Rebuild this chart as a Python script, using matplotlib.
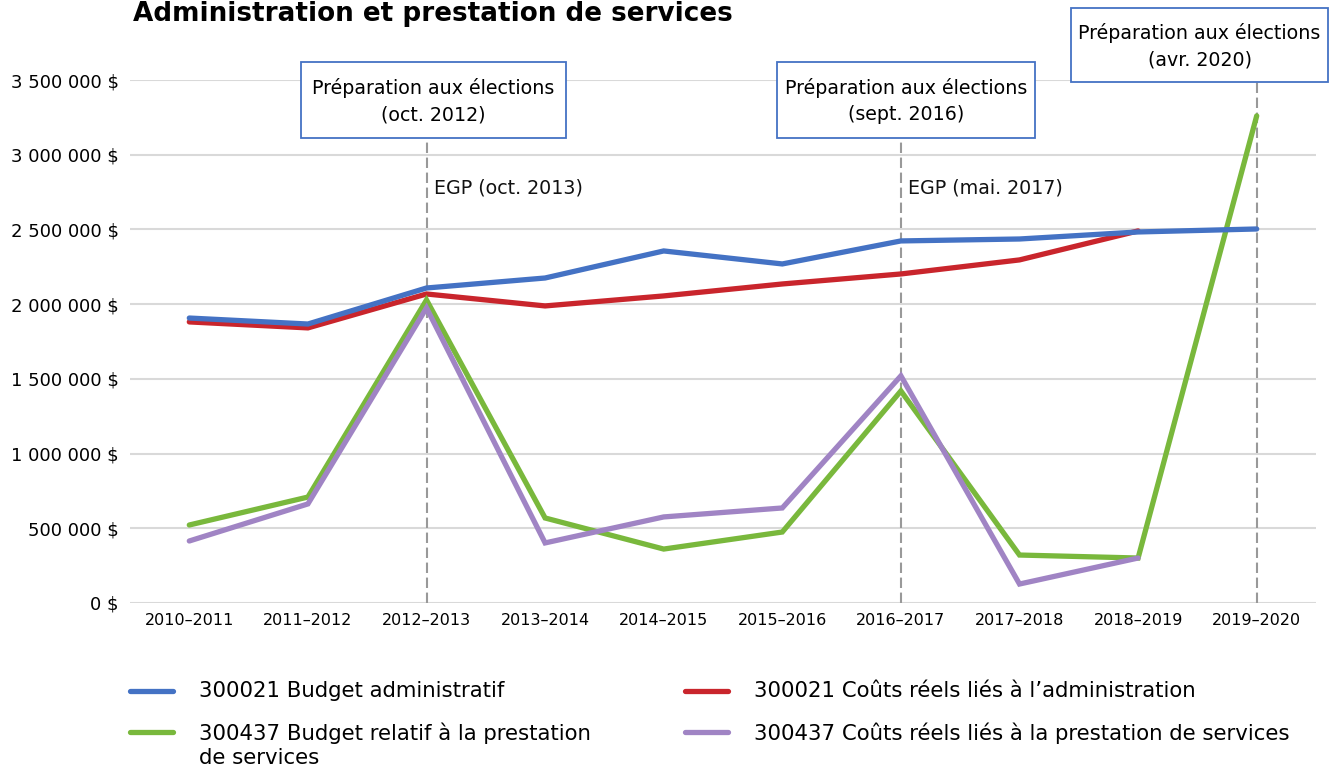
import numpy as np
import matplotlib
matplotlib.use("Agg")
import matplotlib.pyplot as plt
from matplotlib.ticker import FuncFormatter, MultipleLocator
from matplotlib.lines import Line2D
from matplotlib.patches import Rectangle

# --- DONNEES ---
annees = ["2010–2011", "2011–2012", "2012–2013", "2013–2014", "2014–2015",
          "2015–2016", "2016–2017", "2017–2018", "2018–2019", "2019–2020"]

budget_admin = [1907000, 1867000, 2108000, 2175000, 2356000,
                2269000, 2423000, 2436000, 2483000, 2503000]
couts_admin = [1881000, 1841000, 2068000, 1988000, 2055000,
               2135000, 2202000, 2296000, 2490000, np.nan]
budget_prest = [522000, 709000, 2028000, 569000, 361000,
                475000, 1419000, 321000, 301000, 3260000]
couts_prest = [415000, 663000, 1975000, 402000, 576000,
               636000, 1520000, 127000, 301000, np.nan]

noms_series = ["300021 Budget administratif",
               "300021 Coûts réels liés à l’administration",
               "300437 Budget relatif à la prestation\nde services",
               "300437 Coûts réels liés à la prestation de services"]

# evenements : indice de l'annee, texte de la boite, texte EGP
idx_evenements = [2, 6, 9]
textes_boites = ["Préparation aux élections\n(oct. 2012)",
                 "Préparation aux élections\n(sept. 2016)",
                 "Préparation aux élections\n(avr. 2020)"]
textes_egp = ["EGP (oct. 2013)", "EGP (mai. 2017)", None]

# --- STYLE ---
plt.rcParams['font.family'] = ['DejaVu Sans']
c_bleu = "#4472C4"
c_rouge = "#C9252C"
c_vert = "#79B83C"
c_violet = "#A084C4"
lw = 3.8
W, H = 1336, 773


def fx(px):
    return px / W


def fy(py):
    return 1 - py / H


fig = plt.figure(figsize=(W / 100, H / 100), dpi=100)
ax = fig.add_axes([fx(130), fy(603), 1186 / W, 523 / H])

x = np.arange(len(annees))

# --- SERIES ---
kw = dict(lw=lw, solid_capstyle="round", solid_joinstyle="miter")
l1, = ax.plot(x, budget_admin, color=c_bleu, zorder=4, **kw)
l2, = ax.plot(x, couts_admin, color=c_rouge, zorder=3, **kw)
l3, = ax.plot(x, budget_prest, color=c_vert, zorder=3, **kw)
l4, = ax.plot(x, couts_prest, color=c_violet, zorder=3.5, **kw)

# --- AXES ---
ax.set_xlim(-0.5, 9.5)
ax.set_ylim(0, 3500000)
ax.yaxis.set_major_locator(MultipleLocator(500000))
ax.yaxis.set_major_formatter(FuncFormatter(
    lambda v, p: "{:,.0f} $".format(v).replace(",", " ")))
ax.set_xticks(x)
ax.set_xticklabels(annees, fontsize=11.5)
ax.tick_params(axis="y", labelsize=13, length=0, pad=8)
ax.tick_params(axis="x", length=0, pad=7)
ax.grid(axis="y", color="#D9D9D9", lw=1.5, zorder=0)
ax.set_axisbelow(True)
for s in ax.spines.values():
    s.set_visible(False)

# --- LIGNES POINTILLEES ET ANNOTATIONS ---
# boites : (gauche, haut, droite, bas) en pixels
boites = [(301, 62, 566, 138), (777, 62, 1035, 138), (1071, 8, 1328, 82)]
trans = ax.get_xaxis_transform()
for idx, boite, texte, egp in zip(idx_evenements, boites, textes_boites, textes_egp):
    g, h, d, b = boite
    haut_axe = (603 - b) / 523
    ax.plot([idx, idx], [0, haut_axe], transform=trans, ls=(0, (5, 2.2)),
            color="#999999", lw=1.5, zorder=1, clip_on=False)
    fig.add_artist(Rectangle((fx(g), fy(b)), (d - g) / W, (b - h) / H,
                             transform=fig.transFigure, fc="white", ec=c_bleu,
                             lw=1.3, zorder=5))
    fig.text(fx((g + d) / 2), fy((h + b) / 2 + 1), texte, fontsize=13.7,
             ha="center", va="center", linespacing=1.5, zorder=6)
    if egp:
        x_pix = ax.transData.transform((idx, 0))[0]
        fig.text(fx(x_pix + 7), fy(188), egp, fontsize=13.7, ha="left",
                 va="center", color="#111111")

fig.text(fx(133), fy(14), "Administration et prestation de services",
         fontsize=18.9, fontweight="bold", ha="left", va="center")

# --- LEGENDE ---
lignes = [l1, l2, l3, l4]
pos_leg = [(128, 691), (683, 691), (128, 732), (683, 732)]
for ligne, nom, (px, py) in zip(lignes, noms_series, pos_leg):
    fig.add_artist(Line2D([fx(px + 2), fx(px + 45)], [fy(py), fy(py)],
                          transform=fig.transFigure, color=ligne.get_color(),
                          lw=lw, solid_capstyle="round"))
    fig.text(fx(px + 71), fy(py - 10), nom, fontsize=15.3, ha="left",
             va="top", linespacing=1.3)

fig.savefig("out.png", dpi=100)
